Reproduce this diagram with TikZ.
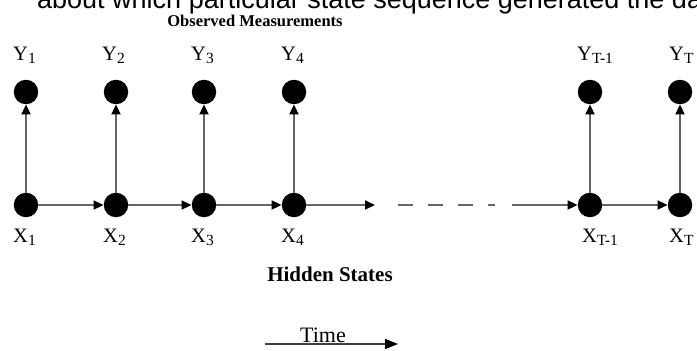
\documentclass[tikz,border=0pt]{standalone}
\usepackage{fontspec}
\setmainfont{Liberation Serif}
\newfontfamily\cutsans{Liberation Sans}
\usetikzlibrary{arrows.meta,positioning}

\newcommand{\lowidx}[1]{\raisebox{-3.5pt}{\fontsize{15.5}{15.5}\selectfont #1}}

\begin{document}
\begin{tikzpicture}[
    x=1pt, y=-1pt,
    state/.style={
        circle,
        fill=black,
        inner sep=0pt,
        minimum size=24.5pt
    },
    varlabel/.style={anchor=base west, inner sep=0pt, font=\fontsize{20.5}{20.5}\selectfont},
    heading/.style={anchor=base, inner sep=0pt, font=\bfseries\fontsize{16.5}{16.5}\selectfont},
    arrow/.style={-{Triangle[length=10pt,width=9pt,color=black]}, draw=black!60, line width=2pt},
    gapline/.style={draw=black!60, line width=2pt, dash pattern=on 15pt off 15pt}
]
\clip (0,0) rectangle (697,351);

% cut-off caption line at the top
\node[anchor=base west, inner sep=0pt, font=\cutsans\fontsize{27}{27}\selectfont] (cuttext) at (37,8)
    {about which particular state sequence generated the data};
\node[heading] (observed) at (255,26) {Observed Measurements};

% hidden states
\node[state] (x1) at (26,205) {};
\node[state] (x2) at (116,205) {};
\node[state] (x3) at (204,205) {};
\node[state] (x4) at (294,205) {};
\node[state] (xT1) at (590,205) {};
\node[state] (xT) at (680,205) {};

% observations
\node[state] (y1) at (26,92) {};
\node[state] (y2) at (116,92) {};
\node[state] (y3) at (204,92) {};
\node[state] (y4) at (294,92) {};
\node[state] (yT1) at (590,92) {};
\node[state] (yT) at (680,92) {};

\node[varlabel] (ly1) at (13,60) {Y\lowidx{1}};
\node[varlabel] (ly2) at (102,60) {Y\lowidx{2}};
\node[varlabel] (ly3) at (191,60) {Y\lowidx{3}};
\node[varlabel] (ly4) at (281,60) {Y\lowidx{4}};
\node[varlabel] (lyT1) at (577,60) {Y\lowidx{T-1}};
\node[varlabel] (lyT) at (669,60) {Y\lowidx{T}};

\node[varlabel] (lx1) at (13,242) {X\lowidx{1}};
\node[varlabel] (lx2) at (103,242) {X\lowidx{2}};
\node[varlabel] (lx3) at (191,242) {X\lowidx{3}};
\node[varlabel] (lx4) at (281,242) {X\lowidx{4}};
\node[varlabel] (lxT1) at (582,242) {X\lowidx{T-1}};
\node[varlabel] (lxT) at (669,242) {X\lowidx{T}};

\node[heading, font=\bfseries\fontsize{21}{21}\selectfont] (hidden) at (330,281) {Hidden States};

\coordinate (chainend) at (375,205);
\coordinate (dashstart) at (398,205);
\coordinate (dashend) at (495,205);
\coordinate (resume) at (512,205);

\draw[arrow] (x1) -- (y1);
\draw[arrow] (x2) -- (y2);
\draw[arrow] (x3) -- (y3);
\draw[arrow] (x4) -- (y4);
\draw[arrow] (xT1) -- (yT1);
\draw[arrow] (xT) -- (yT);

\draw[arrow] (x1) -- (x2);
\draw[arrow] (x2) -- (x3);
\draw[arrow] (x3) -- (x4);
\draw[arrow] (x4) -- (chainend);
\draw[gapline] (dashstart) -- (dashend);
\draw[arrow] (resume) -- (xT1);
\draw[arrow] (xT1) -- (xT);

% time axis
\coordinate (tstart) at (265,344);
\coordinate (tend) at (398,344);
\draw[arrow, draw=black!75, line width=1.5pt, -{Triangle[length=13pt,width=10pt,color=black]}] (tstart) -- (tend);
\node[anchor=base, inner sep=0pt, font=\fontsize{22}{22}\selectfont] (timelabel) at (323,342) {Time};
\end{tikzpicture}
\end{document}
